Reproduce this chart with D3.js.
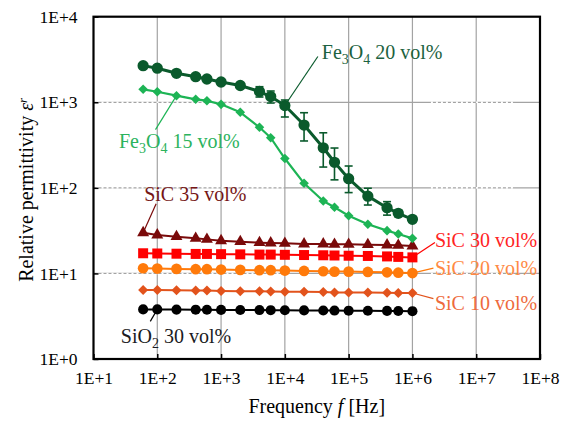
<!DOCTYPE html>
<html>
<head>
<meta charset="utf-8">
<script src="https://cdn.jsdelivr.net/npm/d3@7"></script>
<style>
  html, body { margin: 0; padding: 0; background: #fff; }
  svg { display: block; font-family: "Liberation Serif", "Times New Roman", serif; }
  svg text { font-family: "Liberation Serif", "Times New Roman", serif; }
</style>
</head>
<body>
<svg id="chart" width="568" height="423"></svg>
<script>
// Measurement frequencies (Hz), shared by every composite
const freqHz = [60, 100, 200, 400, 600, 1e3, 2e3, 4e3, 6e3, 1e4, 2e4, 4e4, 6e4, 1e5, 2e5, 4e5, 6e5, 1e6];

// Relative permittivity of each composite
const fe3o4_20 = [2680, 2500, 2180, 1990, 1870, 1725, 1570, 1336, 1167, 916, 542, 294, 199, 128, 80, 58.6, 50.4, 42.9];
const fe3o4_20Lo = [null, null, null, null, null, null, null, 1152, 980, 673, 353, 175, 124, 88, 63, 48, 46, 40];
const fe3o4_20Hi = [null, null, null, null, null, null, null, 1520, 1354, 1063, 755, 440, 292, 180, 99, 69, 55, 46];
const fe3o4_15 = [1417, 1328, 1194, 1083, 1043, 946, 763, 510, 385, 220, 113, 70.2, 59.3, 47.2, 37.5, 31.6, 28.9, 25.7];
const sic35 = [29.9, 28.1, 26.9, 25.7, 25.0, 24.1, 23.5, 22.9, 22.7, 22.5, 22.1, 22.1, 21.9, 21.9, 21.7, 21.5, 21.3, 20.9];
const sic30 = [17.2, 17.1, 17.0, 16.9, 16.9, 16.8, 16.7, 16.6, 16.6, 16.5, 16.4, 16.3, 16.2, 16.1, 16.0, 15.8, 15.6, 15.4];
const sic20 = [11.5, 11.4, 11.3, 11.2, 11.2, 11.1, 11.0, 10.9, 10.9, 10.8, 10.7, 10.6, 10.5, 10.5, 10.4, 10.3, 10.2, 10.1];
const sic10 = [6.4, 6.4, 6.35, 6.3, 6.3, 6.25, 6.2, 6.2, 6.15, 6.1, 6.1, 6.05, 6.0, 6.0, 6.0, 5.95, 5.9, 5.9];
const sio2_30 = [3.80, 3.80, 3.78, 3.77, 3.76, 3.75, 3.74, 3.73, 3.72, 3.71, 3.70, 3.69, 3.68, 3.67, 3.66, 3.65, 3.64, 3.62];

// Series names ("_x" marks a subscript character)
const seriesNames = ["SiO_2 30 vol%", "SiC 10 vol%", "SiC 20 vol%", "SiC 30 vol%", "SiC 35 vol%", "Fe_3O_4 15 vol%", "Fe_3O_4 20 vol%"];

// Axis tick values and labels
const xTicks = [1e1, 1e2, 1e3, 1e4, 1e5, 1e6, 1e7, 1e8];
const xTickLabels = ["1E+1", "1E+2", "1E+3", "1E+4", "1E+5", "1E+6", "1E+7", "1E+8"];
const yTicks = [1e0, 1e1, 1e2, 1e3, 1e4];
const yTickLabels = ["1E+0", "1E+1", "1E+2", "1E+3", "1E+4"];

// ---- styling and layout ----
const W = 568, H = 423;
const plot = { left: 93.5, right: 540, top: 16.7, bottom: 359 };
const SERIF = "'Liberation Serif', 'Times New Roman', serif";

const styles = [
  { values: sio2_30,  color: "#000000", text: "#1a1a22", shape: "circle",   size: 80,  lw: 2,   label: { at: 1,  lead: [-7, 12],   pos: [-36.5, 34] } },
  { values: sic10,    color: "#e2531c", text: "#ee6a3c", shape: "diamond",  size: 50,  lw: 2,   label: { at: 17, lead: [21, 5.6],  pos: [22.5, 16.6] } },
  { values: sic20,    color: "#ff7a0a", text: "#ff8a44", shape: "circle",   size: 90,  lw: 2,   label: { at: 17, lead: [21, -5],   pos: [22.5, 1.8] } },
  { values: sic30,    color: "#ff0000", text: "#ff2424", shape: "square",   size: 100, lw: 2,   label: { at: 17, lead: [22.5, -15], pos: [22.5, -10.5] } },
  { values: sic35,    color: "#7a0a0a", text: "#761616", shape: "triangle", size: 62,  lw: 2,   label: { at: 0,  lead: [13, -29],  pos: [1, -31.5] } },
  { values: fe3o4_15, color: "#1db455", text: "#2bb35d", shape: "diamond",  size: 46,  lw: 2.2, label: { at: 2,  lead: [-21, 34],  pos: [-57.5, 52] } },
  { values: fe3o4_20, color: "#0a5a2c", text: "#1c6240", shape: "circle",   size: 100, lw: 3,   label: { at: 9,  lead: [33, -49],  pos: [37, -47] },
    lo: fe3o4_20Lo, hi: fe3o4_20Hi }
];

const svg = d3.select("#chart");

const x = d3.scaleLog().domain([1e1, 1e8]).range([plot.left, plot.right]);
const y = d3.scaleLog().domain([1e0, 1e4]).range([plot.bottom, plot.top]);

svg.append("rect").attr("width", W).attr("height", H).attr("fill", "#fff");

// ---- grid ----
const grid = svg.append("g");
grid.selectAll("line.vg")
  .data(xTicks.slice(1, -1))
  .join("line")
  .attr("x1", d => x(d)).attr("x2", d => x(d))
  .attr("y1", plot.top).attr("y2", plot.bottom)
  .attr("stroke", "#a3a3a3").attr("stroke-width", 1.2);

const hTicks = yTicks.slice(1, -1);
grid.selectAll("line.hg")
  .data(hTicks)
  .join("line")
  .attr("x1", plot.left).attr("x2", plot.right)
  .attr("y1", d => y(d)).attr("y2", d => y(d))
  .attr("stroke", "#a3a3a3").attr("stroke-width", 1.2);

// dashed stretches of the horizontal grid
const dashedSpans = [[1e1, 1e4], [1.75e6, 3.8e7]];
dashedSpans.forEach(([a, b]) => {
  grid.selectAll(null)
    .data(hTicks)
    .join("line")
    .attr("x1", x(a)).attr("x2", x(b))
    .attr("y1", d => y(d)).attr("y2", d => y(d))
    .attr("stroke", "#fff").attr("stroke-width", 1.6)
    .attr("stroke-dasharray", "2,3").attr("stroke-dashoffset", 2);
});

// ---- series ----
function symbolPath(shape, size) {
  if (shape === "circle") return d3.symbol(d3.symbolCircle, size)();
  if (shape === "square" || shape === "diamond") return d3.symbol(d3.symbolSquare, size)();
  if (shape === "triangle") return d3.symbol(d3.symbolTriangle, size)();
}

const line = d3.line().x((d, i) => x(freqHz[i])).y(d => y(d));

const leaderG = svg.append("g");
const seriesG = svg.append("g");
styles.forEach((s, k) => {
  const g = seriesG.append("g");
  const pts = s.values.map((v, i) => ({ f: freqHz[i], v, lo: s.lo ? s.lo[i] : null, hi: s.hi ? s.hi[i] : null }));

  // leader line from the anchor point to its label
  const a = pts[s.label.at];
  const ax = x(a.f), ay = y(a.v);
  leaderG.append("line")
    .attr("x1", ax).attr("y1", ay)
    .attr("x2", ax + s.label.lead[0]).attr("y2", ay + s.label.lead[1])
    .attr("stroke", s.color).attr("stroke-width", 1.2);

  g.append("path")
    .datum(s.values)
    .attr("d", line)
    .attr("fill", "none")
    .attr("stroke", s.color)
    .attr("stroke-width", s.lw)
    .attr("stroke-linejoin", "round");

  if (s.lo) {
    const eb = g.selectAll("g.err")
      .data(pts.filter(p => p.lo != null))
      .join("g");
    eb.append("line")
      .attr("x1", p => x(p.f)).attr("x2", p => x(p.f))
      .attr("y1", p => y(p.lo)).attr("y2", p => y(p.hi))
      .attr("stroke", s.color).attr("stroke-width", 1.6);
    ["lo", "hi"].forEach(key => {
      eb.append("line")
        .attr("x1", p => x(p.f) - 4).attr("x2", p => x(p.f) + 4)
        .attr("y1", p => y(p[key])).attr("y2", p => y(p[key]))
        .attr("stroke", s.color).attr("stroke-width", 1.6);
    });
  }

  g.selectAll("path.m")
    .data(pts)
    .join("path")
    .attr("d", symbolPath(s.shape, s.size))
    .attr("transform", p => `translate(${x(p.f)},${y(p.v)})` + (s.shape === "diamond" ? " rotate(45)" : ""))
    .attr("fill", s.color);

  s.anchor = [ax, ay];
});

// ---- plot frame and ticks ----
svg.append("rect")
  .attr("x", plot.left).attr("y", plot.top)
  .attr("width", plot.right - plot.left).attr("height", plot.bottom - plot.top)
  .attr("fill", "none").attr("stroke", "#000").attr("stroke-width", 2.2);

const xAxis = d3.axisBottom(x).tickValues(xTicks).tickSize(-5).tickFormat((d, i) => xTickLabels[i]).tickPadding(13);
const yAxis = d3.axisLeft(y).tickValues(yTicks).tickSize(-5).tickFormat((d, i) => yTickLabels[i]).tickPadding(16);

const gx = svg.append("g").attr("transform", `translate(0,${plot.bottom})`).call(xAxis);
const gy = svg.append("g").attr("transform", `translate(${plot.left},0)`).call(yAxis);
[gx, gy].forEach(g => {
  g.attr("font-family", SERIF).attr("font-size", 17.5);
  g.select(".domain").remove();
  g.selectAll(".tick line").attr("stroke", "#000").attr("stroke-width", 1.5);
  g.selectAll(".tick text").attr("fill", "#000");
});

// ---- axis titles ----
svg.append("text")
  .attr("x", (plot.left + plot.right) / 2).attr("y", 413)
  .attr("text-anchor", "middle")
  .attr("font-family", SERIF).attr("font-size", 20)
  .call(t => {
    t.append("tspan").text("Frequency ");
    t.append("tspan").attr("font-style", "italic").text("f");
    t.append("tspan").text(" [Hz]");
  });

svg.append("text")
  .attr("transform", `translate(33,${(plot.top + plot.bottom) / 2 + 2}) rotate(-90)`)
  .attr("text-anchor", "middle")
  .attr("font-family", SERIF).attr("font-size", 20)
  .call(t => {
    t.append("tspan").text("Relative permittivity ");
    t.append("tspan").attr("font-style", "italic").text("\u03b5");
    t.append("tspan").attr("font-style", "italic").attr("font-size", 13).attr("dy", -6).text("r");
  });

// ---- series labels ----
function richText(sel, str) {
  const parts = str.split(/(_.)/).filter(p => p.length);
  let shifted = false;
  parts.forEach(p => {
    if (p[0] === "_") {
      sel.append("tspan").attr("font-size", 14).attr("dy", shifted ? 0 : 5).text(p.slice(1));
      shifted = true;
    } else {
      sel.append("tspan").attr("dy", shifted ? -5 : 0).text(p);
      shifted = false;
    }
  });
}

styles.forEach((s, k) => {
  const [ax, ay] = s.anchor;
  svg.append("text")
    .attr("x", ax + s.label.pos[0]).attr("y", ay + s.label.pos[1])
    .attr("fill", s.text)
    .attr("font-family", SERIF).attr("font-size", 20)
    .call(richText, seriesNames[k]);
});
</script>
</body>
</html>
